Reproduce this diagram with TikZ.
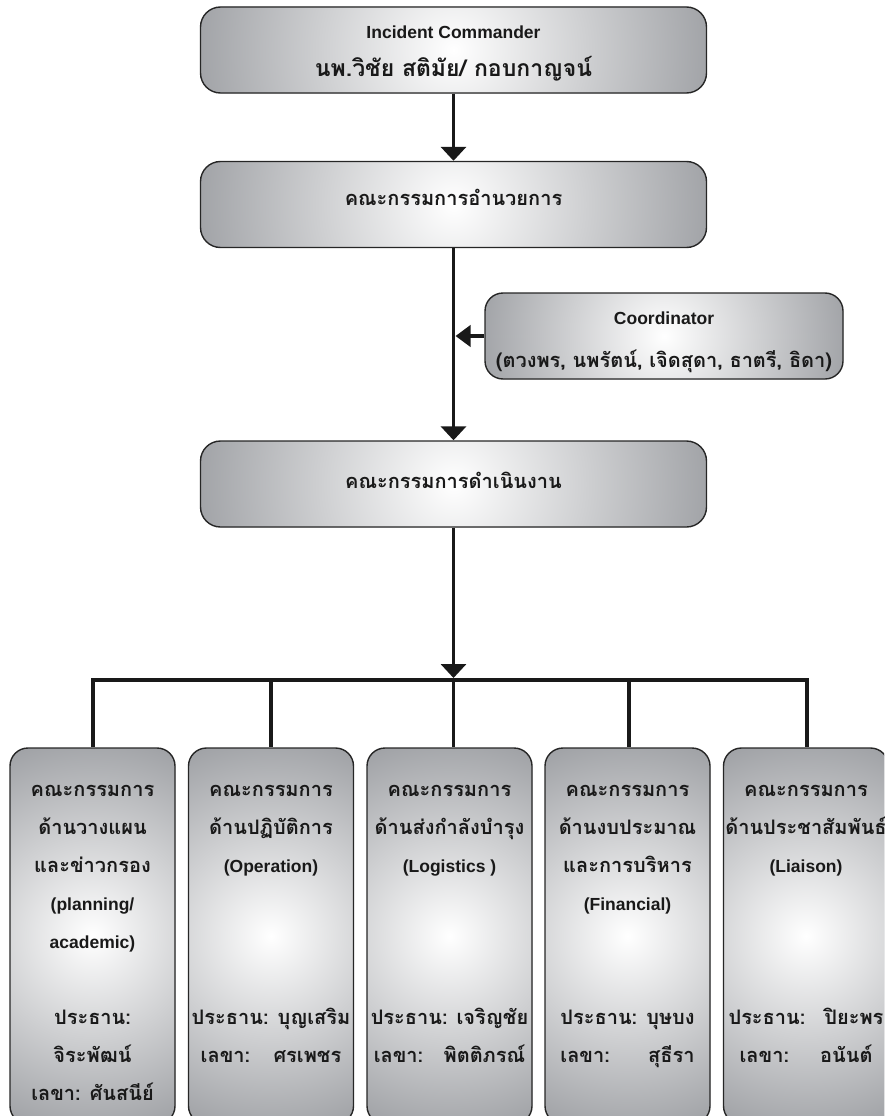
\documentclass[tikz,border=0pt]{standalone}
\usepackage{fontspec}
\setmainfont[Script=Thai]{Loma}
\newfontfamily\latfont{Liberation Sans}
\usetikzlibrary{arrows.meta}
\definecolor{boxgray}{RGB}{158,160,164}
\definecolor{edgecol}{RGB}{38,38,38}
\definecolor{ink}{RGB}{25,25,25}
\newbox\pairbox
\newcommand\pairlines[5][0pt]{\global\setbox\pairbox=\hbox{#2 #3}#2 #3\\\makebox[\dimexpr\wd\pairbox-#1\relax]{#4\hfill #5}}
\newcommand\lat[1]{{\latfont\bfseries\fontsize{17.5}{38}\selectfont #1}}
\tikzset{
  box/.style={draw=edgecol, line width=1.4pt, fill=boxgray, inner sep=0pt,
    path picture={\fill[inner color=white, outer color=boxgray]
      (path picture bounding box.center) circle (#1);}},
  widebox/.style={box=265pt, rounded corners=20pt, minimum width=506pt, minimum height=86pt},
  coordbox/.style={box=190pt, rounded corners=18pt, minimum width=358pt, minimum height=86pt},
  tallbox/.style={box=205pt, rounded corners=18pt, minimum width=165pt, minimum height=376pt},
  txt/.style={font=\bfseries\fontsize{20}{38}\selectfont, text=ink, inner sep=0pt, align=center, anchor=base},
  conn/.style={draw=ink, line width=3.8pt},
  bigtip/.style={-{Triangle[width=25pt,length=14pt]}},
  sidetip/.style={-{Triangle[width=21pt,length=15pt]}},
}
\begin{document}
\begin{tikzpicture}[x=1pt,y=-1pt]
\useasboundingbox (0,0) rectangle (884,1116);
\clip (0,0) rectangle (884,1116);
% boxes
\node[widebox] (ic) at (453.5,50) {};
\node[widebox] (steer) at (453.5,204.5) {};
\node[coordbox] (coord) at (664,336) {};
\node[widebox] (oper) at (453.5,484) {};
\node[tallbox] (b1) at (92.5,936) {};
\node[tallbox] (b2) at (271,936) {};
\node[tallbox] (b3) at (449.5,936) {};
\node[tallbox] (b4) at (627.5,936) {};
\node[tallbox] (b5) at (806,936) {};
% texts
\node[txt] (ic1) at (453.5,38.5) {\lat{Incident Commander}};
\node[txt, font=\bfseries\fontsize{23}{30}\selectfont] (ic2) at (453.5,76.5) {นพ.วิชัย สติมัย/ กอบกาญจน์};
\node[txt] (st1) at (453.5,205) {คณะกรรมการอำนวยการ};
\node[txt] (co1) at (664,324) {\lat{Coordinator}};
\node[txt] (co2) at (664,367) {(ตวงพร, นพรัตน์, เจิดสุดา, ธาตรี, ธิดา)};
\node[txt] (op1) at (453.5,488) {คณะกรรมการดำเนินงาน};
\node[txt] (t1) at (92.5,1100) {คณะกรรมการ\\ด้านวางแผน\\และข่าวกรอง\\\lat{(planning/}\\\lat{academic)}\\[38pt]ประธาน:\\จิระพัฒน์\\เลขา: ศันสนีย์};
\node[txt] (t2) at (271,1062) {คณะกรรมการ\\ด้านปฏิบัติการ\\\lat{(Operation)}\\[114pt]\pairlines[18pt]{ประธาน:}{บุญเสริม}{เลขา:}{ศรเพชร}};
\node[txt] (t3) at (449.5,1062) {คณะกรรมการ\\ด้านส่งกำลังบำรุง\\\lat{(Logistics )}\\[114pt]\pairlines[6pt]{ประธาน:}{เจริญชัย}{เลขา:}{พิตติภรณ์}};
\node[txt] (t4) at (627.5,1062) {คณะกรรมการ\\ด้านงบประมาณ\\และการบริหาร\\\lat{(Financial)}\\[76pt]\pairlines{ประธาน:}{บุษบง}{เลขา:}{สุธีรา}};
\node[txt] (t5) at (806,1062) {คณะกรรมการ\\ด้านประชาสัมพันธ์\\\lat{(Liaison)}\\[114pt]\pairlines[22pt]{ประธาน:\enspace}{ปิยะพร}{เลขา:}{อนันต์}};
% connectors
\coordinate (join) at ([xshift=2pt]steer.south |- coord.west);
\coordinate (hub) at (453.5,678);
\coordinate (d1) at (93,680);
\coordinate (d2) at (271,680);
\coordinate (d3) at (453.5,680);
\coordinate (d4) at (629,680);
\coordinate (d5) at (807,680);
\draw[conn,bigtip] (ic.south) -- (steer.north);
\draw[conn,bigtip] (steer.south) -- (oper.north);
\draw[conn,sidetip] (coord.west) -- (join);
\draw[conn,bigtip] (oper.south) -- (hub);
\draw[conn,line join=miter] (d1 |- b1.north) -- (d1) -- (d5) -- (d5 |- b5.north);
\draw[conn] (d2) -- (d2 |- b2.north);
\draw[conn] (d3) -- (d3 |- b3.north);
\draw[conn] (d4) -- (d4 |- b4.north);
\end{tikzpicture}
\end{document}
